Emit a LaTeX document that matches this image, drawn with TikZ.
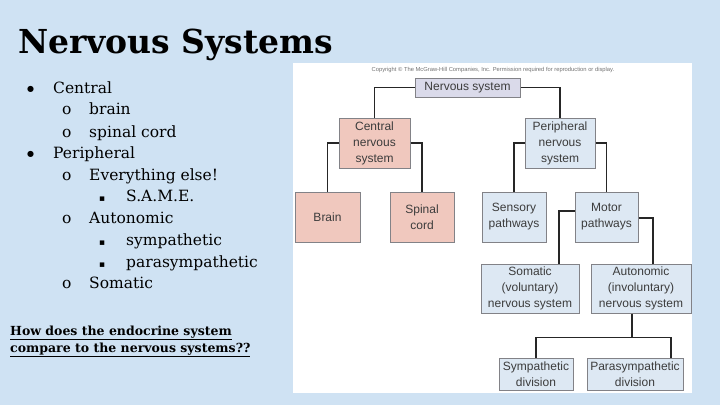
\documentclass[tikz,border=0pt]{standalone}
\usepackage{fontspec}
\setmainfont{DejaVu Serif}
\newfontfamily\diag{Liberation Sans}
\newfontfamily\symf{DejaVu Sans}
\definecolor{bg}{RGB}{207,226,243}
\definecolor{pinkbox}{RGB}{240,200,190}
\definecolor{bluebox}{RGB}{221,232,243}
\definecolor{lavbox}{RGB}{218,218,234}
\definecolor{boxline}{RGB}{130,130,135}
\definecolor{txtgray}{RGB}{60,60,60}
\tikzset{
  box/.style={draw=boxline, line width=1pt, inner sep=0pt, align=center,
    font=\diag\fontsize{12}{16}\selectfont, text=txtgray},
  conn/.style={draw=black!85, line width=1.6pt},
  li/.style={anchor=base west, inner sep=0pt, font=\fontsize{15.5}{18}\selectfont},
}
\begin{document}
\begin{tikzpicture}[x=1pt,y=-1pt]
\fill[bg] (0,0) rectangle (720,405);
\useasboundingbox (0,0) rectangle (720,405);
% title
\node[anchor=base west, inner sep=0pt, font=\bfseries\fontsize{33}{38}\selectfont] (title) at (18,53) {Nervous Systems};
% list
\node[li, font=\symf\fontsize{8}{10}\selectfont] (b1) at (27,91) {●};
\node[li] (t1) at (53,93) {Central};
\node[li] (o1) at (62,114) {o};
\node[li] (t2) at (89,114) {brain};
\node[li] (o2) at (62,137) {o};
\node[li] (t3) at (89,137) {spinal cord};
\node[li, font=\symf\fontsize{8}{10}\selectfont] (b2) at (27,156) {●};
\node[li] (t4) at (53,158) {Peripheral};
\node[li] (o3) at (62,180) {o};
\node[li] (t5) at (89,180) {Everything else!};
\node[li, font=\symf\fontsize{9}{10}\selectfont] (s1) at (99,201) {▪};
\node[li] (t6) at (126,201) {S.A.M.E.};
\node[li] (o4) at (62,223) {o};
\node[li] (t7) at (89,223) {Autonomic};
\node[li, font=\symf\fontsize{9}{10}\selectfont] (s2) at (99,245) {▪};
\node[li] (t8) at (126,245) {sympathetic};
\node[li, font=\symf\fontsize{9}{10}\selectfont] (s3) at (99,267) {▪};
\node[li] (t9) at (126,267) {parasympathetic};
\node[li] (o5) at (62,288) {o};
\node[li] (t10) at (89,288) {Somatic};
\node[anchor=base west, inner sep=0pt, font=\bfseries\fontsize{12.5}{14}\selectfont] (q1) at (10,335) {\underline{How does the endocrine system}};
\node[anchor=base west, inner sep=0pt, font=\bfseries\fontsize{12.5}{14}\selectfont] (q2) at (10,352) {\underline{compare to the nervous systems??}};
% white panel
\fill[white] (293,63) rectangle (692,393);
\node[inner sep=0pt, font=\diag\fontsize{5.8}{7}\selectfont, text=black!55] (copy) at (493,70) {Copyright © The McGraw-Hill Companies, Inc. Permission required for reproduction or display.};
% boxes
\node[box, fill=lavbox, minimum width=105pt, minimum height=19pt] (ns) at (467.5,87.5) {Nervous system};
\node[box, fill=pinkbox, minimum width=71pt, minimum height=50pt] (cns) at (374.5,143) {Central\\nervous\\system};
\node[box, fill=bluebox, minimum width=70pt, minimum height=50pt] (pns) at (560,143) {Peripheral\\nervous\\system};
\node[box, fill=pinkbox, minimum width=65pt, minimum height=50pt] (brain) at (327.5,217) {Brain};
\node[box, fill=pinkbox, minimum width=64pt, minimum height=50pt] (sc) at (422,217) {Spinal\\cord};
\node[box, fill=bluebox, minimum width=64pt, minimum height=50pt] (sens) at (514,217) {Sensory\\pathways};
\node[box, fill=bluebox, minimum width=63pt, minimum height=50pt] (mot) at (606.5,217) {Motor\\pathways};
\node[box, fill=bluebox, minimum width=98pt, minimum height=49pt] (som) at (530,288.5) {Somatic\\(voluntary)\\nervous system};
\node[box, fill=bluebox, minimum width=100pt, minimum height=49pt] (aut) at (641,288.5) {Autonomic\\(involuntary)\\nervous system};
\node[box, fill=bluebox, minimum width=74pt, minimum height=32pt] (sym) at (536,374) {Sympathetic\\division};
\node[box, fill=bluebox, minimum width=96pt, minimum height=32pt] (para) at (635,374) {Parasympathetic\\division};
% connectors
\draw[conn] (ns.west) -| (cns.north);
\draw[conn] (ns.east) -| (pns.north);
\draw[conn] (cns.west) -| (brain.north);
\draw[conn] (cns.east) -| (sc.north);
\draw[conn] (pns.west) -| (sens.north);
\draw[conn] (pns.east) -| (mot.north);
\draw[conn] ([yshift=6pt]mot.west) -| ([xshift=29pt]som.north);
\draw[conn] ([yshift=-1pt]mot.east) -| ([xshift=12pt]aut.north);
\coordinate (j) at ([xshift=-9pt,yshift=-24pt]aut.south);
\draw[conn] ([xshift=-9pt]aut.south) -- (j);
\draw[conn] (sym.north) |- (j) -| ([xshift=36pt]para.north);
\end{tikzpicture}
\end{document}
